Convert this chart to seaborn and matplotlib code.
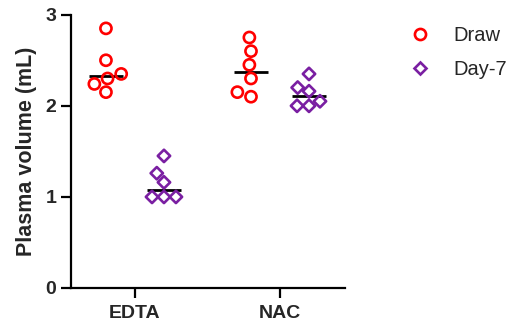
import matplotlib
matplotlib.use("Agg")
import matplotlib.pyplot as plt
from matplotlib.lines import Line2D
import seaborn as sns
import pandas as pd

groups = ["EDTA", "NAC"]
conditions = ["Draw", "Day-7"]
edta_draw = [2.85, 2.50, 2.35, 2.30, 2.24, 2.15]
edta_day7 = [1.45, 1.26, 1.16, 1.00, 1.00, 1.00]
nac_draw = [2.75, 2.60, 2.45, 2.30, 2.15, 2.10]
nac_day7 = [2.35, 2.20, 2.16, 2.05, 2.00, 2.00]
colors = {"Draw": "#FF0000", "Day-7": "#7A1FA2"}
markers = {"Draw": "o", "Day-7": "D"}

rows = []
for g, cond, vals in [("EDTA", "Draw", edta_draw), ("EDTA", "Day-7", edta_day7),
                      ("NAC", "Draw", nac_draw), ("NAC", "Day-7", nac_day7)]:
    for v in vals:
        rows.append({"group": g, "cond": cond, "value": v})
df = pd.DataFrame(rows)

sns.set_style("ticks")
plt.rcParams["font.family"] = ["Liberation Sans", "DejaVu Sans"]
plt.rcParams["font.weight"] = "bold"

fig = plt.figure(figsize=(5.19, 3.27), dpi=100)
ax = fig.add_axes([0.1368, 0.1193, 0.6647 - 0.1368, 0.955 - 0.1193])

# median lines
sns.boxplot(data=df, x="group", y="value", hue="cond", order=groups, hue_order=conditions,
            dodge=True, width=0.8, gap=0.4, showbox=False, showcaps=False, showfliers=False,
            whiskerprops={"visible": False},
            medianprops={"color": "black", "linewidth": 2.0, "solid_capstyle": "butt"},
            legend=False, ax=ax)

sizes = {"Draw": 8.0, "Day-7": 6.3}
lw = 1.9
for cond in conditions:
    n_before = len(ax.collections)
    sns.swarmplot(data=df[df["cond"] == cond], x="group", y="value", hue="cond",
                  order=groups, hue_order=conditions, palette=colors, dodge=True,
                  marker=markers[cond], size=sizes[cond], linewidth=lw, legend=False, ax=ax)
    for coll in ax.collections[n_before:]:
        coll.set_facecolor("none")
        coll.set_edgecolor(colors[cond])
        coll.set_linewidth(lw)

ax.set_xlim(-0.441, 1.448)
ax.set_ylim(0, 3)
ax.set_yticks([0, 1, 2, 3])
ax.set_xlabel("")
ax.set_ylabel("Plasma volume (mL)", fontsize=15.5, fontweight="bold", labelpad=6)
for s in ["top", "right"]:
    ax.spines[s].set_visible(False)
for s in ["left", "bottom"]:
    ax.spines[s].set_linewidth(1.6)
    ax.spines[s].set_color("black")
ax.tick_params(axis="y", length=7.2, width=1.6, labelsize=14, color="black", pad=3.5)
ax.tick_params(axis="x", length=7.2, width=1.6, labelsize=14, color="black", pad=5)
for lab in ax.get_xticklabels() + ax.get_yticklabels():
    lab.set_fontweight("bold")

handles = [Line2D([], [], linestyle="none", marker=markers[c], markersize=sizes[c],
                  markerfacecolor="none", markeredgecolor=colors[c], markeredgewidth=lw)
           for c in conditions]
leg = fig.legend(handles, conditions, loc="upper left", bbox_to_anchor=(0.771, 0.951),
                 frameon=False, prop={"size": 14.5, "weight": "normal"},
                 borderpad=0, handlelength=1.0, handletextpad=1.15, labelspacing=0.75)

fig.savefig("out.png", dpi=100)
